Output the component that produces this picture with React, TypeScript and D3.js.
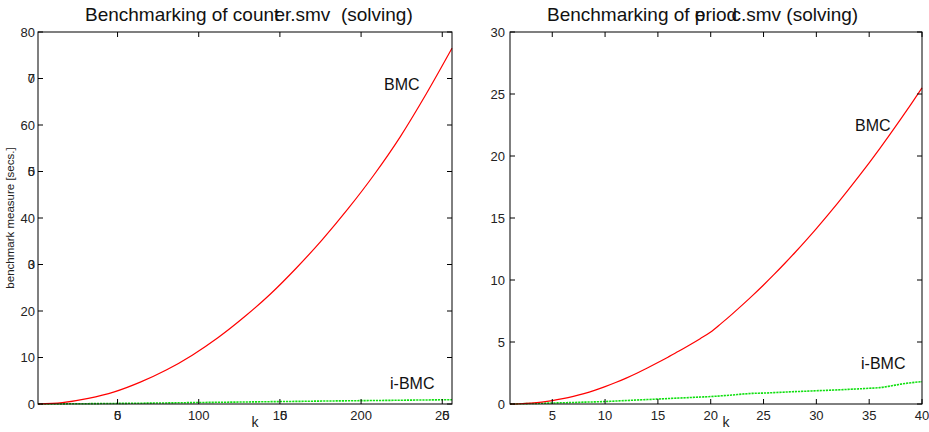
import React from "react";
import * as d3 from "d3";

// counter.smv: solving time per bound k
const counterK = [1, 16, 32, 48, 64, 80, 96, 112, 128, 144, 160, 176, 192, 208, 224, 240, 256];
const counterBMC = [0, 0.3, 1.2, 2.6, 4.7, 7.3, 10.5, 14.3, 18.7, 23.6, 29.2, 35.3, 42.0, 49.3, 57.4, 66.6, 76.5];
const counterIBMC = [0, 0.03, 0.07, 0.12, 0.17, 0.23, 0.3, 0.37, 0.43, 0.5, 0.56, 0.63, 0.69, 0.75, 0.81, 0.87, 0.93];

// periodic.smv: solving time per bound k
const periodK = [1, 2, 3, 4, 5, 6, 7, 8, 9, 10, 11, 12, 13, 14, 15, 16, 17, 18, 19, 20, 21, 22, 23, 24, 25, 26, 27, 28, 29, 30, 31, 32, 33, 34, 35, 36, 37, 38, 39, 40];
const periodBMC = [0, 0.02, 0.07, 0.15, 0.27, 0.43, 0.62, 0.84, 1.1, 1.4, 1.73, 2.09, 2.48, 2.9, 3.34, 3.8, 4.27, 4.76, 5.27, 5.8, 6.5, 7.23, 7.99, 8.78, 9.6, 10.45, 11.33, 12.24, 13.18, 14.15, 15.15, 16.18, 17.24, 18.33, 19.45, 20.6, 21.78, 22.99, 24.23, 25.5];
const periodIBMC = [0, 0.02, 0.04, 0.06, 0.08, 0.1, 0.12, 0.15, 0.17, 0.2, 0.24, 0.28, 0.32, 0.36, 0.4, 0.44, 0.48, 0.52, 0.56, 0.6, 0.66, 0.72, 0.8, 0.86, 0.88, 0.92, 0.96, 1.0, 1.03, 1.07, 1.1, 1.14, 1.18, 1.22, 1.27, 1.32, 1.45, 1.6, 1.72, 1.8];

// tick values and their printed labels ("/" = next glyph printed on top of the previous one)
const leftXTicks = [50, 100, 150, 200, 250];
const leftXLabels = ["5/0", "100", "15/0", "200", "25/0"];
const leftYTicks = [0, 10, 20, 30, 40, 50, 60, 70, 80];
const leftYLabels = ["0", "10", "20", "3/0", "40", "5/0", "60", "7/0", "80"];
const rightXTicks = [5, 10, 15, 20, 25, 30, 35, 40];
const rightXLabels = ["5", "10", "15", "20", "25", "30", "35", "40"];
const rightYTicks = [0, 5, 10, 15, 20, 25, 30];
const rightYLabels = ["0", "5", "10", "15", "20", "25", "30"];

const FONT = "'Liberation Sans', Arial, Helvetica, sans-serif";
const TICK = 5;

function columns(label: string): string[][] {
  const cols: string[][] = [];
  let join = false;
  for (const ch of label) {
    if (ch === "/") { join = true; continue; }
    if (join && cols.length) cols[cols.length - 1].push(ch);
    else cols.push([ch]);
    join = false;
  }
  return cols;
}

function TickLabel({ label, x, y, anchor, size }: { label: string; x: number; y: number; anchor: "middle" | "end"; size: number }) {
  const cols = columns(label);
  const w = size * 0.556;
  const total = cols.length * w;
  const x0 = anchor === "middle" ? x - total / 2 : x - total;
  return (
    <g>
      {cols.map((col, i) =>
        col.map((ch, j) => (
          <text key={`${i}-${j}`} x={x0 + i * w + w / 2} y={y} textAnchor="middle" fontSize={size} fontFamily={FONT} fill="#222">
            {ch}
          </text>
        ))
      )}
    </g>
  );
}

type PanelProps = {
  x0: number; x1: number; y0: number; y1: number;
  xDomain: [number, number]; yDomain: [number, number];
  xTicks: number[]; xLabels: string[]; yTicks: number[]; yLabels: string[];
  ks: number[]; bmc: number[]; ibmc: number[];
  bmcLabel: [number, number]; ibmcLabel: [number, number];
  yLabelGap: number;
};

function Panel(p: PanelProps) {
  const x = d3.scaleLinear().domain(p.xDomain).range([p.x0, p.x1]);
  const y = d3.scaleLinear().domain(p.yDomain).range([p.y1, p.y0]);
  const line = (vals: number[]) =>
    d3.line<number>().x((_, i) => x(p.ks[i])).y((v) => y(v)).curve(d3.curveMonotoneX)(vals) || "";
  return (
    <g>
      <path d={line(p.ibmc)} fill="none" stroke="#11e011" strokeWidth={1.6} strokeDasharray="2.2,0.9" />
      <path d={line(p.bmc)} fill="none" stroke="#ff0000" strokeWidth={1.2} />
      <rect x={p.x0} y={p.y0} width={p.x1 - p.x0} height={p.y1 - p.y0} fill="none" stroke="#000" strokeWidth={1} />
      {p.xTicks.map((t) => (
        <g key={`x${t}`}>
          <line x1={x(t)} x2={x(t)} y1={p.y1} y2={p.y1 - TICK} stroke="#000" />
          <line x1={x(t)} x2={x(t)} y1={p.y0} y2={p.y0 + TICK} stroke="#000" />
        </g>
      ))}
      {p.yTicks.map((t) => (
        <g key={`y${t}`}>
          <line x1={p.x0} x2={p.x0 + TICK} y1={y(t)} y2={y(t)} stroke="#000" />
          <line x1={p.x1} x2={p.x1 - TICK} y1={y(t)} y2={y(t)} stroke="#000" />
        </g>
      ))}
      {p.xTicks.map((t, i) => (
        <TickLabel key={`xl${t}`} label={p.xLabels[i]} x={x(t)} y={p.y1 + 16} anchor="middle" size={13} />
      ))}
      {p.yTicks.map((t, i) => (
        <TickLabel key={`yl${t}`} label={p.yLabels[i]} x={p.x0 - p.yLabelGap} y={y(t) + 4.6} anchor="end" size={13} />
      ))}
      <text x={(p.x0 + p.x1) / 2 + 10} y={p.y1 + 23} textAnchor="middle" fontSize={14} fontFamily={FONT} fill="#222">k</text>
      <text x={p.bmcLabel[0]} y={p.bmcLabel[1]} fontSize={16} fontFamily={FONT} fill="#111">BMC</text>
      <text x={p.ibmcLabel[0]} y={p.ibmcLabel[1]} fontSize={16} fontFamily={FONT} fill="#111">i-BMC</text>
    </g>
  );
}

export default function App() {
  return (
    <svg width={929} height={432} style={{ position: "absolute", left: 0, top: 0, background: "#fff" }}>
      <rect width={929} height={432} fill="#fff" />
      <text x={85} y={21} fontSize={19} fontFamily={FONT} fill="#111" style={{ whiteSpace: "pre" }}>
        <tspan>Benchmarking of coun</tspan>
        <tspan>t</tspan>
        <tspan dx="-0.26em">e</tspan>
        <tspan>r.smv  (solving)</tspan>
      </text>
      <text x={547} y={21} fontSize={19} fontFamily={FONT} fill="#111" style={{ whiteSpace: "pre" }}>
        <tspan>Benchmarking of p</tspan>
        <tspan dx="-0.556em">e</tspan>
        <tspan>rio</tspan>
        <tspan>d</tspan>
        <tspan dx="-0.3em">c</tspan>
        <tspan>.smv (solving)</tspan>
      </text>
      <text transform="translate(14,218) rotate(-90)" textAnchor="middle" fontSize={11.5} fontFamily={FONT} fill="#222">
        benchmark measure [secs.]
      </text>
      <Panel
        x0={38} x1={452} y0={32} y1={404}
        xDomain={[1, 256]} yDomain={[0, 80]}
        xTicks={leftXTicks} xLabels={leftXLabels} yTicks={leftYTicks} yLabels={leftYLabels}
        ks={counterK} bmc={counterBMC} ibmc={counterIBMC}
        bmcLabel={[384, 90]} ibmcLabel={[390, 389]}
        yLabelGap={3}
      />
      <Panel
        x0={510} x1={922} y0={32} y1={404}
        xDomain={[1, 40]} yDomain={[0, 30]}
        xTicks={rightXTicks} xLabels={rightXLabels} yTicks={rightYTicks} yLabels={rightYLabels}
        ks={periodK} bmc={periodBMC} ibmc={periodIBMC}
        bmcLabel={[855, 131]} ibmcLabel={[861, 369]}
        yLabelGap={5}
      />
    </svg>
  );
}
